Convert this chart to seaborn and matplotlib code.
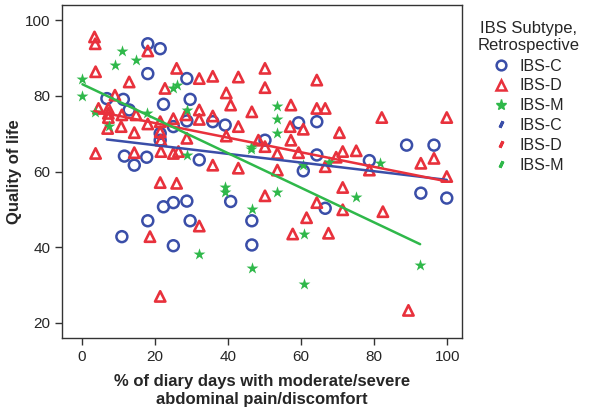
import matplotlib
matplotlib.use('Agg')
import matplotlib.pyplot as plt
from matplotlib.lines import Line2D
import seaborn as sns
import pandas as pd

# ── data ──
ibs_c_x = [18, 21.4, 18, 28.7, 6.8, 11.3, 12.9, 22.3, 29.6, 25, 21.4, 21.4, 11.6, 17.7, 14.3,
           35.8, 39.2, 50.1, 59.3, 64.3, 32.1, 64.3, 60.6, 88.9, 96.4, 78.7, 22.3, 25, 28.7,
           18, 29.6, 10.9, 25, 40.7, 46.5, 46.5, 66.6, 92.8, 99.9, 28.7]
ibs_c_y = [93.8, 92.5, 85.9, 84.6, 79.3, 79.1, 76.3, 77.8, 79.1, 71.9, 70.1, 68.3, 64.1, 63.8, 61.7,
           73.2, 72.3, 68.3, 72.9, 73.2, 63.1, 64.4, 60.2, 67, 67, 62.9, 50.7, 51.8, 52.2,
           47, 47, 42.8, 40.4, 52.1, 47, 40.6, 50.3, 54.3, 53, 73.4]

ibs_d_x = [3.4, 3.6, 18.0, 3.7, 12.9, 22.7, 25.9, 9.0, 4.5, 7.2, 7.2, 7.2, 10.9, 14.8, 7.0, 10.7,
           14.3, 18.0, 21.4, 21.6, 21.6, 3.7, 14.3, 25.0, 25.0, 28.4, 28.7, 26.4,
           50.1, 50.1, 35.8, 32.1, 42.8, 64.3, 39.5, 40.7, 46.5, 57.2, 64.3, 66.6, 32.1, 32.1,
           35.8, 42.8, 39.5, 57.0, 60.6, 57.2, 48.3, 50.1, 53.5, 59.3, 35.8, 42.8, 53.5, 66.6,
           82.1, 99.9, 70.5, 71.4, 75.1, 69.6, 78.7, 92.8, 96.4, 99.9,
           21.4, 25.9, 18.6, 21.4, 32.1, 50.1, 64.3, 61.5, 57.7, 67.5, 71.4, 71.4, 82.4, 89.4,
           21.4]
ibs_d_y = [95.6, 93.8, 91.9, 86.4, 83.7, 82, 87.3, 80.2, 76.7, 76.7, 75.4, 74.3, 75, 75, 71.4, 71.9,
           70.3, 72.6, 70.5, 68.3, 65.3, 64.8, 65, 74, 64.8, 75, 68.8, 65.3,
           87.3, 82.2, 85.2, 84.6, 85, 84.2, 80.8, 77.6, 75.8, 77.6, 76.7, 76.7, 76.3, 73.8,
           74.7, 71.9, 69.4, 71.9, 71.2, 68.3, 68.3, 66.6, 64.8, 65, 61.7, 60.9, 60.4, 61.3,
           74.3, 74.3, 70.3, 65.3, 65.5, 63.8, 60.4, 62.2, 63.5, 58.7,
           57.1, 56.9, 42.8, 27, 45.6, 53.6, 51.8, 47.8, 43.5, 43.7, 55.8, 49.9, 49.4, 23.3,
           73.2]

ibs_m_x = [10.9, 9, 14.8, 0.1, 0.1, 25, 25.9, 3.6, 7.4, 28.7, 28.7, 53.5, 53.5, 53.5, 46.2, 46.2,
           60.6, 67.7, 81.5, 39.2, 39.2, 53.5, 46.5, 60.8, 32.1, 46.5, 60.8, 75.1, 92.6, 17.7]
ibs_m_y = [91.9, 88.1, 89.6, 84.4, 80, 82.2, 82.9, 75.8, 72, 76.3, 64.4, 77.3, 74, 70.1, 66.6, 65.9,
           61.7, 62.5, 62.4, 56, 54.7, 54.7, 50, 43.5, 38.3, 34.5, 30.3, 53.4, 35.4, 75.4]

subtypes = ['IBS-C', 'IBS-D', 'IBS-M']
colors = {'IBS-C': '#3a4ea8', 'IBS-D': '#e8313c', 'IBS-M': '#2fb84a'}
markers = {'IBS-C': 'o', 'IBS-D': '^', 'IBS-M': '*'}

df = pd.concat([
    pd.DataFrame({'pain': ibs_c_x, 'qol': ibs_c_y, 'subtype': 'IBS-C'}),
    pd.DataFrame({'pain': ibs_d_x, 'qol': ibs_d_y, 'subtype': 'IBS-D'}),
    pd.DataFrame({'pain': ibs_m_x, 'qol': ibs_m_y, 'subtype': 'IBS-M'}),
], ignore_index=True)

sns.set_style('white')
plt.rcParams['font.family'] = ['Liberation Sans', 'DejaVu Sans']

fig = plt.figure(figsize=(6.02, 4.16), dpi=100)
ax = fig.add_axes([0.103, 0.1875, 0.664, 0.80])

for st in subtypes:
    sub = df[df['subtype'] == st]
    c = colors[st]
    if markers[st] == '*':
        skw = {'s': 80, 'alpha': 1, 'linewidths': 0, 'zorder': 2}
    elif markers[st] == '^':
        skw = {'s': 55, 'alpha': 1, 'facecolors': 'none',
               'edgecolors': c, 'linewidths': 1.9, 'zorder': 2}
    else:
        skw = {'s': 62, 'alpha': 1, 'facecolors': 'none',
               'edgecolors': c, 'linewidths': 1.8, 'zorder': 2}
    sns.regplot(data=sub, x='pain', y='qol', ax=ax, ci=None, color=c,
                marker=markers[st], scatter_kws=skw,
                line_kws={'lw': 1.8, 'zorder': 3})

ax.set_xlim(-5.5, 104)
ax.set_ylim(16, 104)
ax.set_xticks([0, 20, 40, 60, 80, 100])
ax.set_yticks([20, 40, 60, 80, 100])
ax.tick_params(axis='both', which='major', length=5, width=1, color='#333333',
               labelsize=11, direction='out', bottom=True, left=True)
for sp in ax.spines.values():
    sp.set_color('#333333')
    sp.set_linewidth(1)

ax.set_xlabel('% of diary days with moderate/severe\nabdominal pain/discomfort',
              fontsize=12, fontweight='bold', labelpad=7, linespacing=1.25)
ax.set_ylabel('Quality of life', fontsize=12, fontweight='bold', labelpad=2)

handles = []
for st in subtypes:
    c = colors[st]
    if markers[st] == '*':
        handles.append(Line2D([], [], ls='none', marker='*', ms=8, color=c, mec=c))
    else:
        handles.append(Line2D([], [], ls='none', marker=markers[st], ms=7,
                              mfc='none', mec=c, mew=1.8))
for st in subtypes:
    handles.append(Line2D([], [], ls='none', marker=(2, 2, -25), ms=5,
                          mec=colors[st], mew=2.2))
labels = subtypes + subtypes

leg = fig.legend(handles, labels, loc='upper center', bbox_to_anchor=(0.878, 0.985),
                 frameon=False, title='IBS Subtype,\nRetrospective', fontsize=11.5,
                 title_fontsize=12, handlelength=1.0, handletextpad=0.6,
                 labelspacing=0.3)
leg.get_title().set_multialignment('center')
leg._legend_box.sep = 4

fig.savefig('out.png', dpi=100)
